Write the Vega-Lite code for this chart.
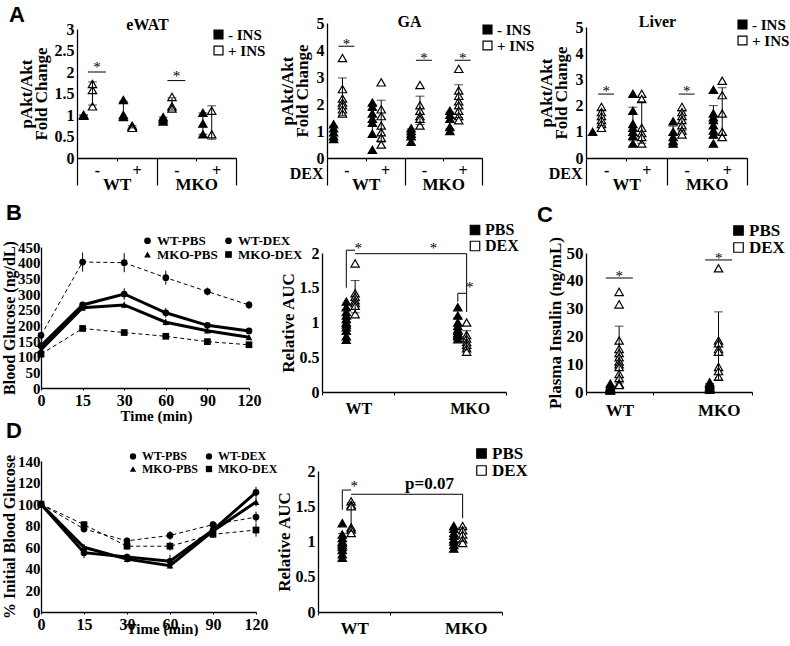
{
  "$schema": "https://vega.github.io/schema/vega-lite/v6.json",
  "padding": {"left": 1, "top": 4, "right": 0, "bottom": 0},
  "config": {
    "font": "Liberation Serif",
    "view": {"stroke": null},
    "axis": {"labelFont": "Liberation Serif", "titleFont": "Liberation Serif", "labelFontWeight": "bold", "titleFontWeight": "bold", "labelColor": "black", "titleColor": "black", "domainColor": "black", "domainWidth": 1.3, "tickColor": "black", "tickWidth": 1, "grid": false, "ticks": false, "labelFontSize": 15, "titleFontSize": 16, "labelPadding": 3, "titlePadding": 3, "labelAngle": 0},
    "legend": {"labelFont": "Liberation Serif", "labelFontWeight": "bold", "labelColor": "black", "titleFont": "Liberation Serif"},
    "text": {"font": "Liberation Serif", "color": "black"}
  },
  "datasets": {
    "ewat": [
      {"grp":"WT -","geno":"WT","ins":"- INS","v":1.0},{"grp":"WT -","geno":"WT","ins":"- INS","v":1.0},{"grp":"WT -","geno":"WT","ins":"- INS","v":0.98},
      {"grp":"WT -","geno":"WT","ins":"+ INS","v":1.72},{"grp":"WT -","geno":"WT","ins":"+ INS","v":1.58},{"grp":"WT -","geno":"WT","ins":"+ INS","v":1.2},
      {"grp":"WT +","geno":"WT","ins":"- INS","v":1.35},{"grp":"WT +","geno":"WT","ins":"- INS","v":1.0},{"grp":"WT +","geno":"WT","ins":"- INS","v":0.95},
      {"grp":"WT +","geno":"WT","ins":"+ INS","v":0.75},{"grp":"WT +","geno":"WT","ins":"+ INS","v":0.72},{"grp":"WT +","geno":"WT","ins":"+ INS","v":0.7},
      {"grp":"MKO -","geno":"MKO","ins":"- INS","v":0.95},{"grp":"MKO -","geno":"MKO","ins":"- INS","v":0.9},{"grp":"MKO -","geno":"MKO","ins":"- INS","v":0.85},
      {"grp":"MKO -","geno":"MKO","ins":"+ INS","v":1.42},{"grp":"MKO -","geno":"MKO","ins":"+ INS","v":1.2},{"grp":"MKO -","geno":"MKO","ins":"+ INS","v":1.15},
      {"grp":"MKO +","geno":"MKO","ins":"- INS","v":1.05},{"grp":"MKO +","geno":"MKO","ins":"- INS","v":0.8},{"grp":"MKO +","geno":"MKO","ins":"- INS","v":0.55},
      {"grp":"MKO +","geno":"MKO","ins":"+ INS","v":1.1},{"grp":"MKO +","geno":"MKO","ins":"+ INS","v":0.55}
    ],
    "ewat_sig": [{"grp":"WT -","v":2.0,"lab":"*"},{"grp":"MKO -","v":1.8,"lab":"*"}],
    "t_ewat": [{"grp":"MKO -","v":3,"lab":"eWAT"}],
    "l_a": [{"grp":"WT -","v":3,"lab":"A"}],
    "ga": [
      {"grp":"WT -","geno":"WT","ins":"- INS","v":1.25},{"grp":"WT -","geno":"WT","ins":"- INS","v":1.1},{"grp":"WT -","geno":"WT","ins":"- INS","v":0.95},{"grp":"WT -","geno":"WT","ins":"- INS","v":0.8},{"grp":"WT -","geno":"WT","ins":"- INS","v":0.7},
      {"grp":"WT -","geno":"WT","ins":"+ INS","v":3.7},{"grp":"WT -","geno":"WT","ins":"+ INS","v":2.55},{"grp":"WT -","geno":"WT","ins":"+ INS","v":2.2},{"grp":"WT -","geno":"WT","ins":"+ INS","v":2.05},{"grp":"WT -","geno":"WT","ins":"+ INS","v":1.95},{"grp":"WT -","geno":"WT","ins":"+ INS","v":1.8},{"grp":"WT -","geno":"WT","ins":"+ INS","v":1.65},
      {"grp":"WT +","geno":"WT","ins":"- INS","v":2.05},{"grp":"WT +","geno":"WT","ins":"- INS","v":1.9},{"grp":"WT +","geno":"WT","ins":"- INS","v":1.65},{"grp":"WT +","geno":"WT","ins":"- INS","v":1.45},{"grp":"WT +","geno":"WT","ins":"- INS","v":1.3},{"grp":"WT +","geno":"WT","ins":"- INS","v":0.9},{"grp":"WT +","geno":"WT","ins":"- INS","v":0.3},
      {"grp":"WT +","geno":"WT","ins":"+ INS","v":2.8},{"grp":"WT +","geno":"WT","ins":"+ INS","v":1.8},{"grp":"WT +","geno":"WT","ins":"+ INS","v":1.55},{"grp":"WT +","geno":"WT","ins":"+ INS","v":1.2},{"grp":"WT +","geno":"WT","ins":"+ INS","v":0.95},{"grp":"WT +","geno":"WT","ins":"+ INS","v":0.75},{"grp":"WT +","geno":"WT","ins":"+ INS","v":0.5},
      {"grp":"MKO -","geno":"MKO","ins":"- INS","v":1.1},{"grp":"MKO -","geno":"MKO","ins":"- INS","v":1.0},{"grp":"MKO -","geno":"MKO","ins":"- INS","v":0.9},{"grp":"MKO -","geno":"MKO","ins":"- INS","v":0.8},{"grp":"MKO -","geno":"MKO","ins":"- INS","v":0.6},
      {"grp":"MKO -","geno":"MKO","ins":"+ INS","v":2.7},{"grp":"MKO -","geno":"MKO","ins":"+ INS","v":1.95},{"grp":"MKO -","geno":"MKO","ins":"+ INS","v":1.75},{"grp":"MKO -","geno":"MKO","ins":"+ INS","v":1.55},{"grp":"MKO -","geno":"MKO","ins":"+ INS","v":1.45},{"grp":"MKO -","geno":"MKO","ins":"+ INS","v":1.2},
      {"grp":"MKO +","geno":"MKO","ins":"- INS","v":1.75},{"grp":"MKO +","geno":"MKO","ins":"- INS","v":1.6},{"grp":"MKO +","geno":"MKO","ins":"- INS","v":1.45},{"grp":"MKO +","geno":"MKO","ins":"- INS","v":1.15},{"grp":"MKO +","geno":"MKO","ins":"- INS","v":1.0},
      {"grp":"MKO +","geno":"MKO","ins":"+ INS","v":3.3},{"grp":"MKO +","geno":"MKO","ins":"+ INS","v":2.5},{"grp":"MKO +","geno":"MKO","ins":"+ INS","v":2.3},{"grp":"MKO +","geno":"MKO","ins":"+ INS","v":2.1},{"grp":"MKO +","geno":"MKO","ins":"+ INS","v":1.95},{"grp":"MKO +","geno":"MKO","ins":"+ INS","v":1.75},{"grp":"MKO +","geno":"MKO","ins":"+ INS","v":1.55},{"grp":"MKO +","geno":"MKO","ins":"+ INS","v":1.4}
    ],
    "ga_sig": [{"grp":"WT -","v":4.14,"lab":"*"},{"grp":"MKO -","v":3.62,"lab":"*"},{"grp":"MKO +","v":3.62,"lab":"*"}],
    "t_ga": [{"grp":"MKO -","v":5,"lab":"GA"}],
    "liver": [
      {"grp":"WT -","geno":"WT","ins":"- INS","v":1.0},
      {"grp":"WT -","geno":"WT","ins":"+ INS","v":1.95},{"grp":"WT -","geno":"WT","ins":"+ INS","v":1.75},{"grp":"WT -","geno":"WT","ins":"+ INS","v":1.6},{"grp":"WT -","geno":"WT","ins":"+ INS","v":1.45},{"grp":"WT -","geno":"WT","ins":"+ INS","v":1.3},{"grp":"WT -","geno":"WT","ins":"+ INS","v":1.15},
      {"grp":"WT +","geno":"WT","ins":"- INS","v":2.45},{"grp":"WT +","geno":"WT","ins":"- INS","v":1.8},{"grp":"WT +","geno":"WT","ins":"- INS","v":1.3},{"grp":"WT +","geno":"WT","ins":"- INS","v":1.15},{"grp":"WT +","geno":"WT","ins":"- INS","v":1.0},{"grp":"WT +","geno":"WT","ins":"- INS","v":0.85},{"grp":"WT +","geno":"WT","ins":"- INS","v":0.55},
      {"grp":"WT +","geno":"WT","ins":"+ INS","v":2.45},{"grp":"WT +","geno":"WT","ins":"+ INS","v":2.25},{"grp":"WT +","geno":"WT","ins":"+ INS","v":1.15},{"grp":"WT +","geno":"WT","ins":"+ INS","v":0.95},{"grp":"WT +","geno":"WT","ins":"+ INS","v":0.8},{"grp":"WT +","geno":"WT","ins":"+ INS","v":0.55},
      {"grp":"MKO -","geno":"MKO","ins":"- INS","v":1.4},{"grp":"MKO -","geno":"MKO","ins":"- INS","v":1.0},{"grp":"MKO -","geno":"MKO","ins":"- INS","v":0.8},{"grp":"MKO -","geno":"MKO","ins":"- INS","v":0.65},{"grp":"MKO -","geno":"MKO","ins":"- INS","v":0.55},
      {"grp":"MKO -","geno":"MKO","ins":"+ INS","v":1.95},{"grp":"MKO -","geno":"MKO","ins":"+ INS","v":1.75},{"grp":"MKO -","geno":"MKO","ins":"+ INS","v":1.6},{"grp":"MKO -","geno":"MKO","ins":"+ INS","v":1.45},{"grp":"MKO -","geno":"MKO","ins":"+ INS","v":1.25},{"grp":"MKO -","geno":"MKO","ins":"+ INS","v":1.05},{"grp":"MKO -","geno":"MKO","ins":"+ INS","v":0.9},
      {"grp":"MKO +","geno":"MKO","ins":"- INS","v":2.6},{"grp":"MKO +","geno":"MKO","ins":"- INS","v":1.7},{"grp":"MKO +","geno":"MKO","ins":"- INS","v":1.55},{"grp":"MKO +","geno":"MKO","ins":"- INS","v":1.45},{"grp":"MKO +","geno":"MKO","ins":"- INS","v":1.25},{"grp":"MKO +","geno":"MKO","ins":"- INS","v":1.05},{"grp":"MKO +","geno":"MKO","ins":"- INS","v":0.9},{"grp":"MKO +","geno":"MKO","ins":"- INS","v":0.55},
      {"grp":"MKO +","geno":"MKO","ins":"+ INS","v":2.95},{"grp":"MKO +","geno":"MKO","ins":"+ INS","v":2.4},{"grp":"MKO +","geno":"MKO","ins":"+ INS","v":1.7},{"grp":"MKO +","geno":"MKO","ins":"+ INS","v":1.0},{"grp":"MKO +","geno":"MKO","ins":"+ INS","v":0.8}
    ],
    "liver_sig": [{"grp":"WT -","v":2.44,"lab":"*"},{"grp":"MKO -","v":2.44,"lab":"*"}],
    "t_liver": [{"grp":"MKO -","v":5,"lab":"Liver"}],
    "bgl": [
      {"s":"WT-PBS","trt":"PBS","t":0,"v":135,"e":5},{"s":"WT-PBS","trt":"PBS","t":15,"v":265,"e":10},{"s":"WT-PBS","trt":"PBS","t":30,"v":300,"e":18},{"s":"WT-PBS","trt":"PBS","t":60,"v":240,"e":15},{"s":"WT-PBS","trt":"PBS","t":90,"v":200,"e":10},{"s":"WT-PBS","trt":"PBS","t":120,"v":182,"e":8},
      {"s":"WT-DEX","trt":"DEX","t":0,"v":168,"e":10},{"s":"WT-DEX","trt":"DEX","t":15,"v":402,"e":30},{"s":"WT-DEX","trt":"DEX","t":30,"v":400,"e":30},{"s":"WT-DEX","trt":"DEX","t":60,"v":352,"e":22},{"s":"WT-DEX","trt":"DEX","t":90,"v":308,"e":12},{"s":"WT-DEX","trt":"DEX","t":120,"v":265,"e":12},
      {"s":"MKO-PBS","trt":"PBS","t":0,"v":122,"e":5},{"s":"MKO-PBS","trt":"PBS","t":15,"v":256,"e":8},{"s":"MKO-PBS","trt":"PBS","t":30,"v":265,"e":10},{"s":"MKO-PBS","trt":"PBS","t":60,"v":210,"e":10},{"s":"MKO-PBS","trt":"PBS","t":90,"v":183,"e":8},{"s":"MKO-PBS","trt":"PBS","t":120,"v":162,"e":6},
      {"s":"MKO-DEX","trt":"DEX","t":0,"v":108,"e":5},{"s":"MKO-DEX","trt":"DEX","t":15,"v":190,"e":6},{"s":"MKO-DEX","trt":"DEX","t":30,"v":177,"e":7},{"s":"MKO-DEX","trt":"DEX","t":60,"v":165,"e":7},{"s":"MKO-DEX","trt":"DEX","t":90,"v":148,"e":5},{"s":"MKO-DEX","trt":"DEX","t":120,"v":138,"e":5}
    ],
    "l_b": [{"t":0,"v":450,"lab":"B"}],
    "ipgl": [
      {"s":"WT-PBS","trt":"PBS","t":0,"v":100,"e":0},{"s":"WT-PBS","trt":"PBS","t":15,"v":55,"e":5},{"s":"WT-PBS","trt":"PBS","t":30,"v":51,"e":3},{"s":"WT-PBS","trt":"PBS","t":60,"v":47,"e":6},{"s":"WT-PBS","trt":"PBS","t":90,"v":76,"e":3},{"s":"WT-PBS","trt":"PBS","t":120,"v":111,"e":5},
      {"s":"WT-DEX","trt":"DEX","t":0,"v":100,"e":0},{"s":"WT-DEX","trt":"DEX","t":15,"v":77,"e":3},{"s":"WT-DEX","trt":"DEX","t":30,"v":66,"e":3},{"s":"WT-DEX","trt":"DEX","t":60,"v":71,"e":4},{"s":"WT-DEX","trt":"DEX","t":90,"v":81,"e":3},{"s":"WT-DEX","trt":"DEX","t":120,"v":88,"e":5},
      {"s":"MKO-PBS","trt":"PBS","t":0,"v":100,"e":0},{"s":"MKO-PBS","trt":"PBS","t":15,"v":60,"e":3},{"s":"MKO-PBS","trt":"PBS","t":30,"v":49,"e":3},{"s":"MKO-PBS","trt":"PBS","t":60,"v":43,"e":3},{"s":"MKO-PBS","trt":"PBS","t":90,"v":75,"e":3},{"s":"MKO-PBS","trt":"PBS","t":120,"v":102,"e":4},
      {"s":"MKO-DEX","trt":"DEX","t":0,"v":100,"e":0},{"s":"MKO-DEX","trt":"DEX","t":15,"v":81,"e":3},{"s":"MKO-DEX","trt":"DEX","t":30,"v":61,"e":3},{"s":"MKO-DEX","trt":"DEX","t":60,"v":61,"e":4},{"s":"MKO-DEX","trt":"DEX","t":90,"v":72,"e":3},{"s":"MKO-DEX","trt":"DEX","t":120,"v":76,"e":6}
    ],
    "l_d": [{"t":0,"v":140,"lab":"D"}],
    "bauc": [
      {"g":"WT","t":"PBS","v":1.3},{"g":"WT","t":"PBS","v":1.22},{"g":"WT","t":"PBS","v":1.15},{"g":"WT","t":"PBS","v":1.1},{"g":"WT","t":"PBS","v":1.05},{"g":"WT","t":"PBS","v":1.0},{"g":"WT","t":"PBS","v":0.97},{"g":"WT","t":"PBS","v":0.93},{"g":"WT","t":"PBS","v":0.88},{"g":"WT","t":"PBS","v":0.8},{"g":"WT","t":"PBS","v":0.75},
      {"g":"WT","t":"DEX","v":1.85},{"g":"WT","t":"DEX","v":1.42},{"g":"WT","t":"DEX","v":1.37},{"g":"WT","t":"DEX","v":1.32},{"g":"WT","t":"DEX","v":1.28},{"g":"WT","t":"DEX","v":1.24},{"g":"WT","t":"DEX","v":1.12},
      {"g":"MKO","t":"PBS","v":1.22},{"g":"MKO","t":"PBS","v":1.1},{"g":"MKO","t":"PBS","v":1.0},{"g":"MKO","t":"PBS","v":0.95},{"g":"MKO","t":"PBS","v":0.9},{"g":"MKO","t":"PBS","v":0.88},{"g":"MKO","t":"PBS","v":0.85},{"g":"MKO","t":"PBS","v":0.82},{"g":"MKO","t":"PBS","v":0.8},{"g":"MKO","t":"PBS","v":0.76},
      {"g":"MKO","t":"DEX","v":1.0},{"g":"MKO","t":"DEX","v":0.82},{"g":"MKO","t":"DEX","v":0.77},{"g":"MKO","t":"DEX","v":0.72},{"g":"MKO","t":"DEX","v":0.68},{"g":"MKO","t":"DEX","v":0.63},{"g":"MKO","t":"DEX","v":0.58}
    ],
    "bauc_br": [
      {"b":1,"i":0,"g":"WT","t":"PBS","v":1.5},{"b":1,"i":1,"g":"WT","t":"PBS","v":2.04},{"b":1,"i":2,"g":"WT","t":"DEX","v":2.04},
      {"b":2,"i":0,"g":"WT","t":"DEX","v":1.99},{"b":2,"i":1,"g":"MKO","t":"DEX","v":1.99},{"b":2,"i":2,"g":"MKO","t":"DEX","v":1.15},
      {"b":3,"i":0,"g":"MKO","t":"PBS","v":1.3},{"b":3,"i":1,"g":"MKO","t":"PBS","v":1.42},{"b":3,"i":2,"g":"MKO","t":"DEX","v":1.42}
    ],
    "bauc_star": [{"g":"WT","v":2.0,"lab":"*"},{"g":"MKO","v":1.44,"lab":"*"}],
    "bauc_star2": [{"g":"MKO","v":2.0,"lab":"*"}],
    "dauc": [
      {"g":"WT","t":"PBS","v":1.26},{"g":"WT","t":"PBS","v":1.1},{"g":"WT","t":"PBS","v":1.05},{"g":"WT","t":"PBS","v":1.0},{"g":"WT","t":"PBS","v":0.98},{"g":"WT","t":"PBS","v":0.95},{"g":"WT","t":"PBS","v":0.92},{"g":"WT","t":"PBS","v":0.88},{"g":"WT","t":"PBS","v":0.82},{"g":"WT","t":"PBS","v":0.77},
      {"g":"WT","t":"DEX","v":1.57},{"g":"WT","t":"DEX","v":1.52},{"g":"WT","t":"DEX","v":1.5},{"g":"WT","t":"DEX","v":1.2},{"g":"WT","t":"DEX","v":1.17},{"g":"WT","t":"DEX","v":1.12},
      {"g":"MKO","t":"PBS","v":1.22},{"g":"MKO","t":"PBS","v":1.18},{"g":"MKO","t":"PBS","v":1.12},{"g":"MKO","t":"PBS","v":1.08},{"g":"MKO","t":"PBS","v":1.03},{"g":"MKO","t":"PBS","v":1.0},{"g":"MKO","t":"PBS","v":0.95},{"g":"MKO","t":"PBS","v":0.9},
      {"g":"MKO","t":"DEX","v":1.22},{"g":"MKO","t":"DEX","v":1.16},{"g":"MKO","t":"DEX","v":1.1},{"g":"MKO","t":"DEX","v":1.03},{"g":"MKO","t":"DEX","v":0.98}
    ],
    "dauc_br": [
      {"b":1,"i":0,"g":"WT","t":"PBS","v":1.45},{"b":1,"i":1,"g":"WT","t":"PBS","v":1.73},{"b":1,"i":2,"g":"WT","t":"DEX","v":1.73},
      {"b":2,"i":0,"g":"WT","t":"DEX","v":1.67},{"b":2,"i":1,"g":"MKO","t":"DEX","v":1.67},{"b":2,"i":2,"g":"MKO","t":"DEX","v":1.33}
    ],
    "dauc_star": [{"g":"WT","v":1.72,"lab":"*"}],
    "dauc_p": [{"g":"MKO","v":1.74,"lab":"p=0.07"}],
    "ins": [
      {"g":"WT","t":"PBS","v":3},{"g":"WT","t":"PBS","v":2.2},{"g":"WT","t":"PBS","v":1.8},{"g":"WT","t":"PBS","v":1.5},{"g":"WT","t":"PBS","v":1.2},{"g":"WT","t":"PBS","v":1},{"g":"WT","t":"PBS","v":0.8},{"g":"WT","t":"PBS","v":0.6},{"g":"WT","t":"PBS","v":0.5},
      {"g":"WT","t":"DEX","v":36},{"g":"WT","t":"DEX","v":31.5},{"g":"WT","t":"DEX","v":18.5},{"g":"WT","t":"DEX","v":15.5},{"g":"WT","t":"DEX","v":14},{"g":"WT","t":"DEX","v":12.5},{"g":"WT","t":"DEX","v":11},{"g":"WT","t":"DEX","v":10},{"g":"WT","t":"DEX","v":9},{"g":"WT","t":"DEX","v":6.5},{"g":"WT","t":"DEX","v":5},{"g":"WT","t":"DEX","v":3},{"g":"WT","t":"DEX","v":2.5},
      {"g":"MKO","t":"PBS","v":3.5},{"g":"MKO","t":"PBS","v":3},{"g":"MKO","t":"PBS","v":2.5},{"g":"MKO","t":"PBS","v":2},{"g":"MKO","t":"PBS","v":1.5},{"g":"MKO","t":"PBS","v":1.2},{"g":"MKO","t":"PBS","v":0.8},
      {"g":"MKO","t":"DEX","v":44.5},{"g":"MKO","t":"DEX","v":18.5},{"g":"MKO","t":"DEX","v":17.5},{"g":"MKO","t":"DEX","v":15.5},{"g":"MKO","t":"DEX","v":14.5},{"g":"MKO","t":"DEX","v":9},{"g":"MKO","t":"DEX","v":7.5},{"g":"MKO","t":"DEX","v":5.5}
    ],
    "ins_sig": [{"g":"WT","v":41,"lab":"*"},{"g":"MKO","v":47.5,"lab":"*"}],
    "l_c": [{"g":"WT","v":50,"lab":"C"}]
  },
  "resolve": {"scale": {"fill": "independent", "shape": "independent"}, "legend": {"fill": "independent", "shape": "independent"}},
  "vconcat": [
    {
      "resolve": {"scale": {"fill": "independent", "shape": "independent"}, "legend": {"fill": "independent", "shape": "independent"}},
      "vconcat": [
        {
          "resolve": {"scale": {"fill": "independent"}, "legend": {"fill": "independent"}},
          "hconcat": [
            {
              "width": 195, "height": 135,
              "data": {"name": "ewat"},
              "encoding": {
                "y": {"field": "v", "type": "quantitative", "title": ["pAkt/Akt", "Fold Change"], "scale": {"domain": [0, 3], "range": [135, 6]}, "axis": {"offset": -36, "values": [0,0.5,1,1.5,2,2.5,3], "format": "~g", "labelFontSize": 16, "titleFontSize": 17, "titleLineHeight": 15, "titlePadding": 4}}
              },
              "layer": [
                {
                  "encoding": {"x": {"field": "grp", "type": "nominal", "scale": {"domain": ["WT -","WT +","MKO -","MKO +"], "paddingInner": 0, "paddingOuter": 0, "range": [36, 195]}, "axis": {"orient": "bottom", "title": null, "labelExpr": "slice(datum.label, -1)", "ticks": true, "tickSize": 3, "tickBand": "extent", "labelPadding": 1, "labelFontSize": 16}}},
                  "layer": [
                    {
                      "mark": {"type": "point", "shape": "triangle-up", "filled": true, "size": 70, "stroke": "black", "strokeWidth": 1.2, "opacity": 1},
                      "encoding": {
                        "xOffset": {"field": "ins", "type": "nominal", "scale": {"domain": ["- INS","+ INS"], "paddingOuter": 0.25, "paddingInner": 0}},
                        "fill": {"field": "ins", "type": "nominal", "scale": {"domain": ["- INS","+ INS"], "range": ["black","white"]}, "legend": {"orient": "none", "legendX": 170, "legendY": 4, "title": null, "symbolType": "square", "symbolSize": 80, "symbolStrokeColor": "black", "symbolStrokeWidth": 1.2, "labelFontSize": 15, "rowPadding": -3, "labelOffset": 2}}
                      }
                    },
                    {"mark": {"type": "errorbar", "extent": "stdev", "ticks": true, "color": "black"}, "encoding": {"xOffset": {"field": "ins", "type": "nominal"}}},
                    {"data": {"name": "ewat_sig"}, "mark": {"type": "tick", "size": 18, "thickness": 1, "color": "black", "opacity": 1}},
                    {"data": {"name": "ewat_sig"}, "mark": {"type": "text", "fontSize": 15, "baseline": "alphabetic", "color": "black"}, "encoding": {"text": {"field": "lab"}}},
                    {"data": {"name": "t_ewat"}, "mark": {"type": "text", "fontSize": 16, "fontWeight": "bold", "baseline": "alphabetic", "color": "black", "dx": -9, "dy": 1}, "encoding": {"x": {"field": "grp", "type": "nominal", "bandPosition": 0}, "text": {"field": "lab"}}},
                    {"data": {"name": "l_a"}, "mark": {"type": "text", "font": "Liberation Sans", "fontSize": 22, "fontWeight": "bold", "align": "left", "baseline": "alphabetic", "color": "black", "dx": -68, "dy": -7}, "encoding": {"x": {"field": "grp", "type": "nominal", "bandPosition": 0}, "text": {"field": "lab"}}}
                  ]
                },
                {
                  "mark": {"type": "tick", "opacity": 0},
                  "encoding": {"x": {"field": "geno", "type": "nominal", "scale": {"domain": ["WT","MKO"], "paddingInner": 0, "paddingOuter": 0, "range": [36, 195]}, "axis": {"orient": "bottom", "title": null, "domain": false, "ticks": true, "tickBand": "extent", "tickSize": 27, "tickWidth": 1.2, "labelPadding": -9, "labelFontSize": 17}}}
                }
              ],
              "resolve": {"scale": {"x": "independent"}, "axis": {"x": "independent"}}
            },
            {
              "width": 168, "height": 135,
              "data": {"name": "ga"},
              "encoding": {
                "y": {"field": "v", "type": "quantitative", "title": ["pAkt/Akt", "Fold Change"], "scale": {"domain": [0, 5]}, "axis": {"values": [0,1,2,3,4,5], "labelFontSize": 16, "titleFontSize": 17, "titleLineHeight": 15, "titlePadding": 5}}
              },
              "layer": [
                {
                  "encoding": {"x": {"field": "grp", "type": "nominal", "scale": {"domain": ["WT -","WT +","MKO -","MKO +"], "paddingInner": 0, "paddingOuter": 0, "range": [0, 155]}, "axis": {"orient": "bottom", "title": "DEX", "titleX": -4, "titleY": 7, "titleAlign": "right", "titleBaseline": "top", "titleFontSize": 16, "labelExpr": "slice(datum.label, -1)", "ticks": true, "tickSize": 3, "tickBand": "extent", "labelPadding": 1, "labelFontSize": 16}}},
                  "layer": [
                    {
                      "mark": {"type": "point", "shape": "triangle-up", "filled": true, "size": 70, "stroke": "black", "strokeWidth": 1.2, "opacity": 1},
                      "encoding": {
                        "xOffset": {"field": "ins", "type": "nominal", "scale": {"domain": ["- INS","+ INS"], "paddingOuter": 0.25, "paddingInner": 0}},
                        "fill": {"field": "ins", "type": "nominal", "scale": {"domain": ["- INS","+ INS"], "range": ["black","white"]}, "legend": {"orient": "none", "legendX": 153, "legendY": -1, "title": null, "symbolType": "square", "symbolSize": 80, "symbolStrokeColor": "black", "symbolStrokeWidth": 1.2, "labelFontSize": 15, "rowPadding": -3, "labelOffset": 2}}
                      }
                    },
                    {"mark": {"type": "errorbar", "extent": "stdev", "ticks": true, "color": "black"}, "encoding": {"xOffset": {"field": "ins", "type": "nominal"}}},
                    {"data": {"name": "ga_sig"}, "mark": {"type": "tick", "size": 16, "thickness": 1, "color": "black", "opacity": 1}},
                    {"data": {"name": "ga_sig"}, "mark": {"type": "text", "fontSize": 15, "baseline": "alphabetic", "color": "black", "dy": 3}, "encoding": {"text": {"field": "lab"}}},
                    {"data": {"name": "t_ga"}, "mark": {"type": "text", "fontSize": 16, "fontWeight": "bold", "baseline": "alphabetic", "color": "black", "dx": 5, "dy": 4}, "encoding": {"x": {"field": "grp", "type": "nominal", "bandPosition": 0}, "text": {"field": "lab"}}}
                  ]
                },
                {
                  "mark": {"type": "tick", "opacity": 0},
                  "encoding": {"x": {"field": "geno", "type": "nominal", "scale": {"domain": ["WT","MKO"], "paddingInner": 0, "paddingOuter": 0, "range": [0, 155]}, "axis": {"orient": "bottom", "title": null, "domain": false, "ticks": true, "tickBand": "extent", "tickSize": 27, "tickWidth": 1.2, "labelPadding": -9, "labelFontSize": 17}}}
                }
              ],
              "resolve": {"scale": {"x": "independent"}, "axis": {"x": "independent"}}
            },
            {
              "width": 161, "height": 135,
              "data": {"name": "liver"},
              "encoding": {
                "y": {"field": "v", "type": "quantitative", "title": ["pAkt/Akt", "Fold Change"], "scale": {"domain": [0, 5], "range": [135, 4]}, "axis": {"values": [0,1,2,3,4,5], "labelFontSize": 16, "titleFontSize": 17, "titleLineHeight": 15, "titlePadding": 5}}
              },
              "layer": [
                {
                  "encoding": {"x": {"field": "grp", "type": "nominal", "scale": {"domain": ["WT -","WT +","MKO -","MKO +"], "paddingInner": 0, "paddingOuter": 0}, "axis": {"orient": "bottom", "title": "DEX", "titleX": -4, "titleY": 7, "titleAlign": "right", "titleBaseline": "top", "titleFontSize": 16, "labelExpr": "slice(datum.label, -1)", "ticks": true, "tickSize": 3, "tickBand": "extent", "labelPadding": 1, "labelFontSize": 16}}},
                  "layer": [
                    {
                      "mark": {"type": "point", "shape": "triangle-up", "filled": true, "size": 70, "stroke": "black", "strokeWidth": 1.2, "opacity": 1},
                      "encoding": {
                        "xOffset": {"field": "ins", "type": "nominal", "scale": {"domain": ["- INS","+ INS"], "paddingOuter": 0.25, "paddingInner": 0}},
                        "fill": {"field": "ins", "type": "nominal", "scale": {"domain": ["- INS","+ INS"], "range": ["black","white"]}, "legend": {"orient": "none", "legendX": 149, "legendY": -6, "title": null, "symbolType": "square", "symbolSize": 80, "symbolStrokeColor": "black", "symbolStrokeWidth": 1.2, "labelFontSize": 15, "rowPadding": -3, "labelOffset": 2}}
                      }
                    },
                    {"mark": {"type": "errorbar", "extent": "stdev", "ticks": true, "color": "black"}, "encoding": {"xOffset": {"field": "ins", "type": "nominal"}}},
                    {"data": {"name": "liver_sig"}, "mark": {"type": "tick", "size": 16, "thickness": 1, "color": "black", "opacity": 1}},
                    {"data": {"name": "liver_sig"}, "mark": {"type": "text", "fontSize": 15, "baseline": "alphabetic", "color": "black", "dy": 2}, "encoding": {"text": {"field": "lab"}}},
                    {"data": {"name": "t_liver"}, "mark": {"type": "text", "fontSize": 16, "fontWeight": "bold", "baseline": "alphabetic", "color": "black", "dx": -9, "dy": 0}, "encoding": {"x": {"field": "grp", "type": "nominal", "bandPosition": 0}, "text": {"field": "lab"}}}
                  ]
                },
                {
                  "mark": {"type": "tick", "opacity": 0},
                  "encoding": {"x": {"field": "geno", "type": "nominal", "scale": {"domain": ["WT","MKO"], "paddingInner": 0, "paddingOuter": 0}, "axis": {"orient": "bottom", "title": null, "domain": false, "ticks": true, "tickBand": "extent", "tickSize": 27, "tickWidth": 1.2, "labelPadding": -9, "labelFontSize": 17}}}
                }
              ],
              "resolve": {"scale": {"x": "independent"}, "axis": {"x": "independent"}}
            }
          ],
          "spacing": 91, "bounds": "flush"
        },
        {
          "resolve": {"scale": {"fill": "independent", "shape": "independent"}, "legend": {"fill": "independent", "shape": "independent"}},
          "hconcat": [
            {
              "width": 208, "height": 141,
              "data": {"name": "bgl"},
              "encoding": {
                "x": {"field": "t", "type": "ordinal", "sort": [0,15,30,60,90,120], "title": "Time (min)", "scale": {"type": "point", "padding": 0}, "axis": {"titleFontSize": 15, "titleX": 115, "titleY": 20, "titleBaseline": "top", "labelFontSize": 16, "labelPadding": 2, "ticks": true, "tickSize": 2}},
                "y": {"field": "v", "type": "quantitative", "title": "Blood Glucose (ng/dL)", "scale": {"domain": [0, 450]}, "axis": {"values": [0,50,100,150,200,250,300,350,400,450], "titleFontSize": 16, "labelFontSize": 15, "labelPadding": 1, "titlePadding": 0}}
              },
              "layer": [
                {"mark": {"type": "errorbar", "ticks": true, "color": "black"}, "encoding": {"yError": {"field": "e"}, "detail": {"field": "s"}}},
                {"transform": [{"filter": {"field": "trt", "equal": "PBS"}}], "mark": {"type": "line", "color": "black", "strokeWidth": 3}, "encoding": {"detail": {"field": "s"}}},
                {"transform": [{"filter": {"field": "trt", "equal": "DEX"}}], "mark": {"type": "line", "color": "black", "strokeWidth": 1, "strokeDash": [4, 3]}, "encoding": {"detail": {"field": "s"}}},
                {"mark": {"type": "point", "filled": true, "color": "black", "size": 45, "opacity": 1}, "encoding": {"shape": {"field": "s", "type": "nominal", "scale": {"domain": ["WT-PBS","MKO-PBS","WT-DEX","MKO-DEX"], "range": ["circle","triangle-up","circle","square"]}, "legend": {"orient": "none", "legendX": 100, "legendY": -13, "columns": 2, "title": null, "labelFontSize": 13, "symbolSize": 45, "symbolFillColor": "black", "symbolStrokeColor": "black", "rowPadding": -2, "columnPadding": 4, "labelOffset": 3}}}},
                {"data": {"name": "l_b"}, "mark": {"type": "text", "font": "Liberation Sans", "fontSize": 22, "fontWeight": "bold", "align": "left", "baseline": "alphabetic", "color": "black", "dx": -35, "dy": -27}, "encoding": {"text": {"field": "lab"}}}
              ]
            },
            {
              "width": 191, "height": 145,
              "data": {"name": "bauc"},
              "encoding": {
                "x": {"field": "g", "type": "nominal", "scale": {"domain": ["WT","MKO"], "paddingInner": 0.35, "paddingOuter": 0, "range": [0, 184]}, "axis": {"title": null, "labelFontSize": 16, "ticks": true, "tickSize": 3, "tickBand": "extent", "labelPadding": 5}},
                "y": {"field": "v", "type": "quantitative", "title": "Relative AUC", "scale": {"domain": [0, 2], "range": [145, 6]}, "axis": {"values": [0,0.5,1,1.5,2], "format": "~g", "labelFontSize": 16, "titleFontSize": 17, "titlePadding": 2}}
              },
              "layer": [
                {
                  "mark": {"type": "point", "shape": "triangle-up", "filled": true, "size": 70, "stroke": "black", "strokeWidth": 1.2, "opacity": 1},
                  "encoding": {
                    "xOffset": {"field": "t", "type": "nominal", "scale": {"domain": ["PBS","DEX"], "paddingOuter": 0, "paddingInner": 0}},
                    "fill": {"field": "t", "type": "nominal", "scale": {"domain": ["PBS","DEX"], "range": ["black","white"]}, "legend": {"orient": "none", "legendX": 145, "legendY": -25, "title": null, "symbolType": "square", "symbolSize": 90, "symbolStrokeColor": "black", "symbolStrokeWidth": 1.2, "labelFontSize": 16, "rowPadding": -1, "labelOffset": 2}}
                  }
                },
                {"mark": {"type": "errorbar", "extent": "stdev", "ticks": true, "color": "black"}, "encoding": {"xOffset": {"field": "t", "type": "nominal"}}},
                {"data": {"name": "bauc_br"}, "mark": {"type": "line", "color": "black", "strokeWidth": 1}, "encoding": {"xOffset": {"field": "t", "type": "nominal"}, "detail": {"field": "b"}, "order": {"field": "i"}}},
                {"data": {"name": "bauc_star"}, "mark": {"type": "text", "fontSize": 15, "baseline": "alphabetic", "color": "black"}, "encoding": {"text": {"field": "lab"}}},
                {"data": {"name": "bauc_star2"}, "mark": {"type": "text", "fontSize": 15, "baseline": "alphabetic", "color": "black"}, "encoding": {"x": {"field": "g", "type": "nominal", "bandPosition": 0}, "text": {"field": "lab"}}}
              ]
            },
            {
              "width": 166, "height": 145,
              "data": {"name": "ins"},
              "encoding": {
                "x": {"field": "g", "type": "nominal", "scale": {"domain": ["WT","MKO"], "paddingInner": 0.33, "paddingOuter": 0}, "axis": {"title": null, "labelFontSize": 17, "ticks": true, "tickSize": 3, "tickBand": "extent", "labelPadding": 7}},
                "y": {"field": "v", "type": "quantitative", "title": "Plasma Insulin (ng/mL)", "scale": {"domain": [0, 50], "range": [145, 6]}, "axis": {"values": [0,10,20,30,40,50], "labelFontSize": 17, "titleFontSize": 17, "titlePadding": 2}}
              },
              "layer": [
                {
                  "mark": {"type": "point", "shape": "triangle-up", "filled": true, "size": 70, "stroke": "black", "strokeWidth": 1.2, "opacity": 1},
                  "encoding": {
                    "xOffset": {"field": "t", "type": "nominal", "scale": {"domain": ["PBS","DEX"], "paddingOuter": 0, "paddingInner": 0}},
                    "fill": {"field": "t", "type": "nominal", "scale": {"domain": ["PBS","DEX"], "range": ["black","white"]}, "legend": {"orient": "none", "legendX": 144, "legendY": -25, "title": null, "symbolType": "square", "symbolSize": 90, "symbolStrokeColor": "black", "symbolStrokeWidth": 1.2, "labelFontSize": 17, "rowPadding": -2, "labelOffset": 2}}
                  }
                },
                {"mark": {"type": "errorbar", "extent": "stdev", "ticks": true, "color": "black"}, "encoding": {"xOffset": {"field": "t", "type": "nominal"}}},
                {"data": {"name": "ins_sig"}, "mark": {"type": "tick", "size": 27, "thickness": 1, "color": "black", "opacity": 1}},
                {"data": {"name": "ins_sig"}, "mark": {"type": "text", "fontSize": 15, "baseline": "alphabetic", "color": "black", "dy": 3}, "encoding": {"text": {"field": "lab"}}},
                {"data": {"name": "l_c"}, "mark": {"type": "text", "font": "Liberation Sans", "fontSize": 22, "fontWeight": "bold", "align": "left", "baseline": "alphabetic", "color": "black", "dx": -49, "dy": -31}, "encoding": {"x": {"field": "g", "type": "nominal", "bandPosition": 0}, "text": {"field": "lab"}}}
              ]
            }
          ],
          "spacing": 73, "bounds": "flush"
        }
      ],
      "spacing": 10
    },
    {
      "resolve": {"scale": {"fill": "independent", "shape": "independent"}, "legend": {"fill": "independent", "shape": "independent"}},
      "hconcat": [
        {
          "width": 215, "height": 151,
          "data": {"name": "ipgl"},
          "encoding": {
            "x": {"field": "t", "type": "ordinal", "sort": [0,15,30,60,90,120], "title": "Time (min)", "scale": {"type": "point", "padding": 0}, "axis": {"titleFontSize": 15, "titleX": 121, "titleY": 9, "titleBaseline": "top", "labelFontSize": 16, "labelPadding": 2, "ticks": true, "tickSize": 2}},
            "y": {"field": "v", "type": "quantitative", "title": "% Initial Blood Glucose", "scale": {"domain": [0, 140]}, "axis": {"values": [0,20,40,60,80,100,120,140], "titleFontSize": 16, "labelFontSize": 15, "labelPadding": 1, "titlePadding": 0}}
          },
          "layer": [
            {"mark": {"type": "errorbar", "ticks": true, "color": "black"}, "encoding": {"yError": {"field": "e"}, "detail": {"field": "s"}}},
            {"transform": [{"filter": {"field": "trt", "equal": "PBS"}}], "mark": {"type": "line", "color": "black", "strokeWidth": 3}, "encoding": {"detail": {"field": "s"}}},
            {"transform": [{"filter": {"field": "trt", "equal": "DEX"}}], "mark": {"type": "line", "color": "black", "strokeWidth": 1, "strokeDash": [4, 3]}, "encoding": {"detail": {"field": "s"}}},
            {"mark": {"type": "point", "filled": true, "color": "black", "size": 45, "opacity": 1}, "encoding": {"shape": {"field": "s", "type": "nominal", "scale": {"domain": ["WT-PBS","MKO-PBS","WT-DEX","MKO-DEX"], "range": ["circle","triangle-up","circle","square"]}, "legend": {"orient": "none", "legendX": 86, "legendY": -11, "columns": 2, "title": null, "labelFontSize": 12, "symbolSize": 40, "symbolFillColor": "black", "symbolStrokeColor": "black", "rowPadding": -3, "columnPadding": 4, "labelOffset": 3}}}},
            {"data": {"name": "l_d"}, "mark": {"type": "text", "font": "Liberation Sans", "fontSize": 22, "fontWeight": "bold", "align": "left", "baseline": "alphabetic", "color": "black", "dx": -35, "dy": -23}, "encoding": {"text": {"field": "lab"}}}
          ]
        },
        {
          "width": 184, "height": 151,
          "data": {"name": "dauc"},
          "encoding": {
            "x": {"field": "g", "type": "nominal", "scale": {"domain": ["WT","MKO"], "paddingInner": 0.35, "paddingOuter": 0}, "axis": {"title": null, "labelFontSize": 17, "ticks": true, "tickSize": 3, "tickBand": "extent", "labelPadding": 5}},
            "y": {"field": "v", "type": "quantitative", "title": "Relative AUC", "scale": {"domain": [0, 2], "range": [151, 10]}, "axis": {"values": [0,0.5,1,1.5,2], "format": "~g", "labelFontSize": 16, "titleFontSize": 17, "titlePadding": 2}}
          },
          "layer": [
            {
              "mark": {"type": "point", "shape": "triangle-up", "filled": true, "size": 70, "stroke": "black", "strokeWidth": 1.2, "opacity": 1},
              "encoding": {
                "xOffset": {"field": "t", "type": "nominal", "scale": {"domain": ["PBS","DEX"], "paddingOuter": 0, "paddingInner": 0}},
                "fill": {"field": "t", "type": "nominal", "scale": {"domain": ["PBS","DEX"], "range": ["black","white"]}, "legend": {"orient": "none", "legendX": 155, "legendY": -16, "title": null, "symbolType": "square", "symbolSize": 90, "symbolStrokeColor": "black", "symbolStrokeWidth": 1.2, "labelFontSize": 17, "rowPadding": -1, "labelOffset": 2}}
              }
            },
            {"mark": {"type": "errorbar", "extent": "stdev", "ticks": true, "color": "black"}, "encoding": {"xOffset": {"field": "t", "type": "nominal"}}},
            {"data": {"name": "dauc_br"}, "mark": {"type": "line", "color": "black", "strokeWidth": 1}, "encoding": {"xOffset": {"field": "t", "type": "nominal"}, "detail": {"field": "b"}, "order": {"field": "i"}}},
            {"data": {"name": "dauc_star"}, "mark": {"type": "text", "fontSize": 15, "baseline": "alphabetic", "color": "black"}, "encoding": {"text": {"field": "lab"}}},
            {"data": {"name": "dauc_p"}, "mark": {"type": "text", "fontSize": 17, "fontWeight": "bold", "baseline": "alphabetic", "color": "black"}, "encoding": {"x": {"field": "g", "type": "nominal", "bandPosition": 0}, "text": {"field": "lab"}}}
          ]
        }
      ],
      "spacing": 62, "bounds": "flush"
    }
  ],
  "spacing": -3
}
